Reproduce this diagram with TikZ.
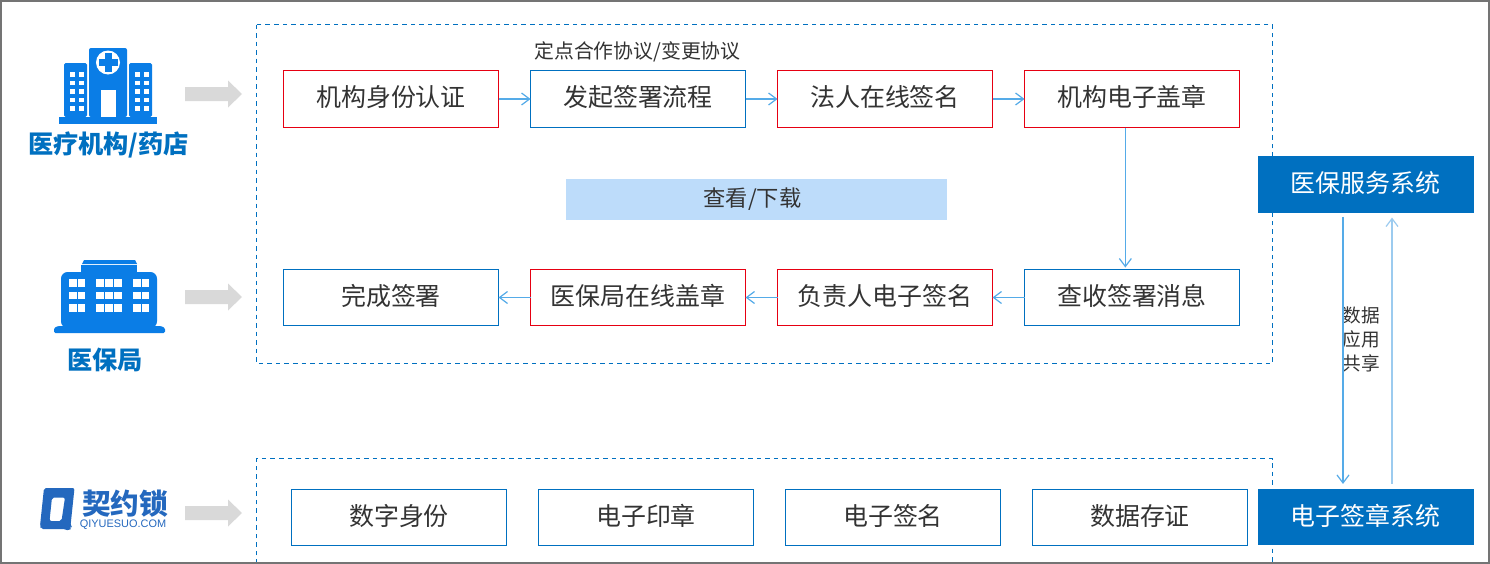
\documentclass[tikz,border=0pt]{standalone}
\usepackage{fontspec}
\setmainfont{Noto Sans CJK SC}
\newfontfamily\latinf{Liberation Sans}
\usetikzlibrary{arrows.meta}
\definecolor{boxblue}{HTML}{0070C0}
\definecolor{boxred}{HTML}{E60012}
\definecolor{flow}{HTML}{55ABE8}
\definecolor{flowlight}{HTML}{9CCBEF}
\definecolor{band}{HTML}{BDDCFA}
\definecolor{icon}{HTML}{0A7DE6}
\definecolor{logo}{HTML}{2468BE}
\definecolor{ink}{HTML}{333333}
\definecolor{frame}{HTML}{747474}
\definecolor{graya}{HTML}{D9D9D9}
\tikzset{
  x=0.75pt,y=-0.75pt,
  every node/.style={inner sep=0pt,outer sep=0pt,text=ink},
  bluebox/.style={draw=boxblue,line width=0.75pt,fill=white,minimum width=161.25pt,minimum height=42pt,text height=16pt,text depth=4.2pt,font=\fontsize{18.7pt}{22pt}\selectfont},
  redbox/.style={bluebox,draw=boxred},
  sysbox/.style={fill=boxblue,minimum width=162pt,minimum height=42.6pt,text=white,text height=16pt,text depth=3.6pt,font=\fontsize{18.7pt}{22pt}\selectfont},
  flowarrow/.style={draw=flow,line width=0.9pt,-{Straight Barb[length=6pt,width=9pt,line width=0.9pt]}},
  lightarrow/.style={flowarrow,draw=flowlight,line width=1.1pt},
  dashframe/.style={draw=boxblue,line width=0.75pt,dash pattern=on 3.4pt off 3pt},
  grayarrow/.style={fill=graya},
  iconfill/.style={fill=icon},
  iconlabel/.style={text=boxblue,font=\fontsize{18.9pt}{22pt}\selectfont\bfseries},
}
\begin{document}
\begin{tikzpicture}
\useasboundingbox (0,0) rectangle (1490,564);
\fill[white] (0,0) rectangle (1490,564);

% dashed frames
\draw[dashframe] (256.5,24.5) rectangle (1272.5,363.5);
\draw[dashframe] (256.5,564) -- (256.5,458.5) -- (1272.5,458.5) -- (1272.5,564);

% top row
\node[redbox,minimum height=42.75pt]  (a1) at (391,99) {机构身份认证};
\node[bluebox,minimum height=42.75pt] (a2) at (638,99) {发起签署流程};
\node[redbox,minimum height=42.75pt]  (a3) at (885,99) {法人在线签名};
\node[redbox,minimum height=42.75pt]  (a4) at (1132,99) {机构电子盖章};
% second row
\node[bluebox] (b1) at (391,297.5) {完成签署};
\node[redbox]  (b2) at (638,297.5) {医保局在线盖章};
\node[redbox]  (b3) at (885,297.5) {负责人电子签名};
\node[bluebox] (b4) at (1132,297.5) {查收签署消息};
% bottom row
\node[bluebox] (c1) at (399,517.5) {数字身份};
\node[bluebox] (c2) at (646,517.5) {电子印章};
\node[bluebox] (c3) at (893,517.5) {电子签名};
\node[bluebox] (c4) at (1140,517.5) {数据存证};

\node[font=\fontsize{14.9pt}{18pt}\selectfont] (agree) at (637.5,52) {定点合作协议/变更协议};
\node[fill=band,minimum width=285.75pt,minimum height=31pt,font=\fontsize{16.7pt}{20pt}\selectfont] (view) at (756.5,199.5) {\makebox[0pt]{\kern-6pt 查看/下载}};

\node[sysbox] (svc) at (1366,184.5) {\kern-1pt 医保服务系统};
\node[sysbox] (esign) at (1366,517) {\kern-1pt 电子签章系统};
\node[align=center,font=\fontsize{14pt}{18pt}\selectfont] (share) at (1361,339) {数据\\应用\\共享};

% connectors
\draw[flowarrow] (a1) -- (a2);
\draw[flowarrow] (a2) -- (a3);
\draw[flowarrow] (a3) -- (a4);
\draw[flowarrow] ([xshift=-5pt]a4.south) -- ([xshift=-5pt,yshift=1.5pt]b4.north);
\draw[flowarrow] (b4) -- (b3);
\draw[flowarrow] (b3) -- (b2);
\draw[flowarrow] (b2) -- (b1);
\draw[flowarrow] ([xshift=-17.25pt,yshift=-3pt]svc.south) -- ([xshift=-17.25pt,yshift=3.5pt]esign.north);
\draw[lightarrow] ([xshift=19.5pt,yshift=3.5pt]esign.north) -- ([xshift=19.5pt,yshift=-3.5pt]svc.south);

% gray arrows
\foreach \yy in {94,297,513}{
  \fill[grayarrow] (185,\yy-7) -- (228,\yy-7) -- (228,\yy-13.5) -- (242,\yy) -- (228,\yy+13.5) -- (228,\yy+7) -- (185,\yy+7) -- cycle;
}

% hospital icon
\fill[iconfill,rounded corners=1.2pt] (64,117) -- (64,63) -- (87,63) -- (87,117) -- cycle;
\fill[iconfill,rounded corners=1.2pt] (129,117) -- (129,63) -- (152,63) -- (152,117) -- cycle;
\fill[iconfill,rounded corners=1.5pt] (89,117) -- (89,48) -- (127,48) -- (127,117) -- cycle;
\fill[iconfill] (59,117) rectangle (157,124);
\fill[white] (108,62.5) circle (9pt);
\fill[iconfill] (104.5,53) rectangle (111.5,72);
\fill[iconfill] (98.5,59) rectangle (117.5,66);
\fill[white] (101,90) rectangle (116,117);
\foreach \yy in {72,80.5,89,97.5,106}{
  \foreach \xx in {70,79,135,144}{
    \fill[white] (\xx,\yy) rectangle (\xx+4.5,\yy+4.5);
  }
}
\node[iconlabel] (lab1) at (108.5,145) {医疗机构/药店};

% bureau icon
\fill[iconfill,rounded corners=1pt] (54,333) -- (54,328) -- (58,326) -- (161,326) -- (165,328) -- (165,333) -- cycle;
\fill[iconfill,rounded corners=5pt] (61,328) -- (61,272) -- (157,272) -- (157,328) -- cycle;
\fill[iconfill] (81,265) rectangle (137,274);
\fill[iconfill] (82,264) -- (84,260) -- (135,260) -- (137,264) -- cycle;
\foreach \yy in {279,291.5,304}{
  \fill[white] (69,\yy) rectangle (76.5,\yy+7.5);
  \fill[white] (77.5,\yy) rectangle (85,\yy+7.5);
  \fill[white] (96,\yy) rectangle (104,\yy+7.5);
  \fill[white] (105,\yy) rectangle (112.5,\yy+7.5);
  \fill[white] (113.5,\yy) rectangle (121.5,\yy+7.5);
  \fill[white] (133,\yy) rectangle (140.5,\yy+7.5);
  \fill[white] (141.5,\yy) rectangle (149,\yy+7.5);
}
\node[iconlabel] (lab2) at (105,360) {医保局};

% qiyuesuo logo
\fill[logo,even odd rule,rounded corners=1.5pt]
  (44,488) -- (74.5,488) -- (70.5,526) -- (72,527.5) -- (69,531) -- (65,529) -- (41,529) -- (40,526) -- cycle
  (52,497.5) -- (65,497.5) -- (61.5,521) -- (49.5,521) -- cycle;
\node[text=logo,font=\fontsize{21.5pt}{24pt}\selectfont\bfseries] (logotxt) at (125,503.5) {契约锁};
\node[text=logo,font=\latinf\fontsize{8.2pt}{10pt}\selectfont] (logourl) at (123,525) {QIYUESUO.COM};

% outer frame
\draw[frame,line width=1.5pt] (1,1) rectangle (1489,563);
\end{tikzpicture}
\end{document}
